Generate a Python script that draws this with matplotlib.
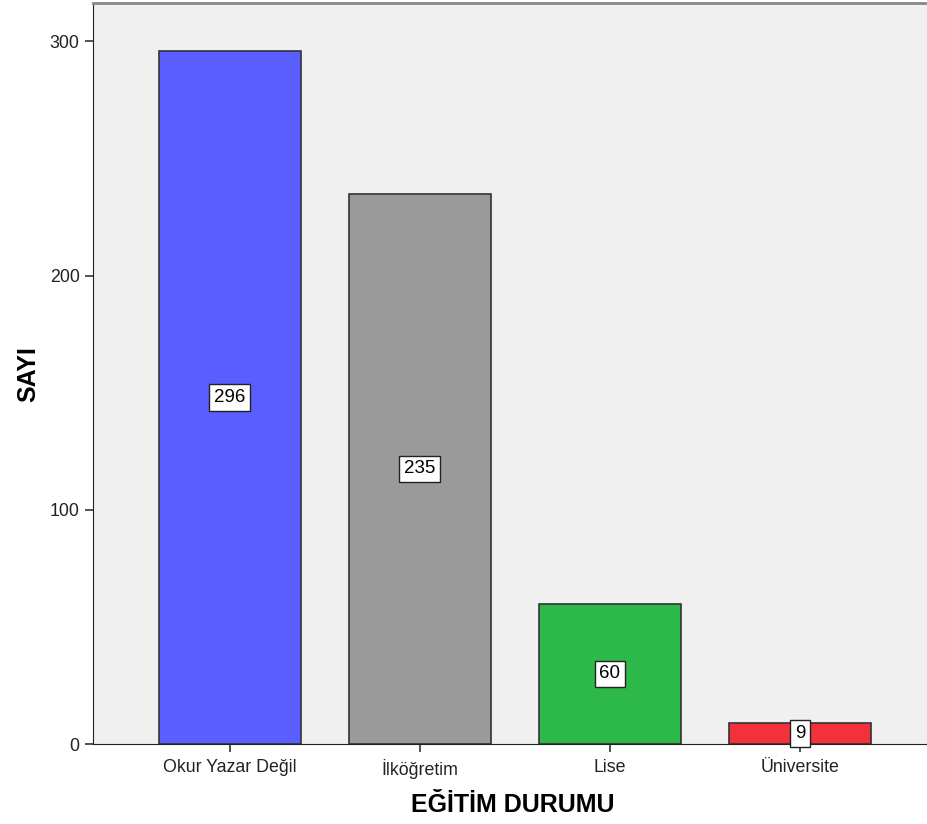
import matplotlib.pyplot as plt

plt.rcParams['font.family'] = ['Liberation Sans', 'DejaVu Sans']

categories = ['Okur Yazar Değil', 'İlköğretim', 'Lise', 'Üniversite']
counts = [296, 235, 60, 9]
colors = ['#5a5eff', '#9a9a9a', '#2db84a', '#f2323a']

fig = plt.figure(figsize=(9.28, 8.24), dpi=100)
ax = fig.add_axes([0.100, 0.097, 0.905, 0.899])
ax.set_facecolor('#f0f0f0')

x = list(range(len(categories)))
ax.bar(x, counts, width=0.747, color=colors, edgecolor='#333333', linewidth=1.2, zorder=2)

# value boxes in the middle of each bar
for xi, v in zip(x, counts):
    ax.text(xi, v / 2, str(v), ha='center', va='center', fontsize=13.5, zorder=3,
            bbox=dict(boxstyle='square,pad=0.25', fc='white', ec='#222222', lw=1))

ax.set_xlim(-0.721, 3.699)
ax.set_ylim(0, 316.2)
ax.set_xticks(x)
ax.set_xticklabels(categories)
ax.set_yticks([0, 100, 200, 300])
ax.tick_params(axis='both', length=6, width=1.2, color='#333333', labelcolor='#222222', labelsize=12.8)
ax.tick_params(axis='x', pad=5)

ax.spines['right'].set_visible(False)
ax.spines['top'].set_color('#888888')
ax.spines['top'].set_linewidth(2)
ax.spines['left'].set_color('#222222')
ax.spines['bottom'].set_color('#222222')

ax.set_xlabel('EĞİTİM DURUMU', fontsize=18, fontweight='bold', labelpad=10)
ax.set_ylabel('SAYI', fontsize=18, fontweight='bold', labelpad=7)

fig.savefig('out.png', dpi=100)
